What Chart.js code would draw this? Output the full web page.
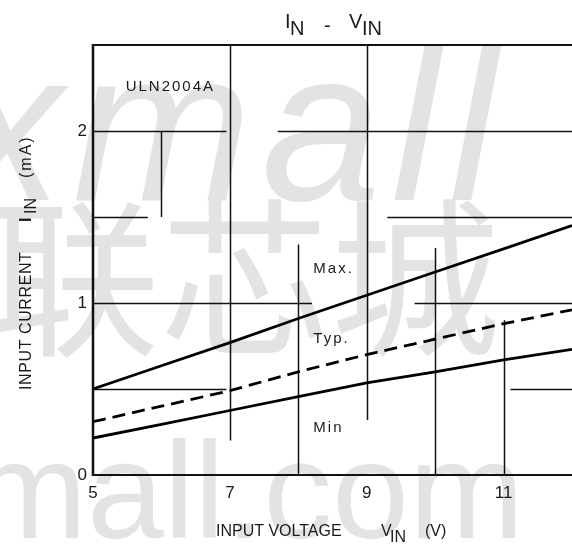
<!DOCTYPE html>
<html>
<head>
<meta charset="utf-8">
<script src="https://cdn.jsdelivr.net/npm/chart.js@4.4.1/dist/chart.umd.min.js"></script>
<style>
  html, body { margin: 0; padding: 0; background: #fff; }
  #wrap { width: 572px; height: 549px; }
</style>
</head>
<body>
<div id="wrap"><canvas id="chart" width="572" height="549"></canvas></div>
<script>
// Input voltage (V) and input current (mA) for the three curves
const inputVoltage = [5, 6, 7, 8, 9, 10, 11, 12];
const currentMax   = [0.50, 0.635, 0.77, 0.91, 1.045, 1.18, 1.315, 1.45];
const currentTyp   = [0.31, 0.40, 0.49, 0.60, 0.70, 0.79, 0.88, 0.96];
const currentMin   = [0.215, 0.295, 0.375, 0.455, 0.535, 0.60, 0.67, 0.73];
const curveNames   = ['Max.', 'Typ.', 'Min'];
const voltageTicks = [5, 7, 9, 11];
const currentTicks = [0, 1, 2];
const deviceName   = 'ULN2004A';

// Graph-paper rulings, in axis units: [voltage, from mA, to mA] and [mA, from V, to V]
const rulesVertical = [
  [6, 1.5, 2.0], [7, 0.2, 2.5], [8, 0, 1.34], [9, 0.32, 2.5], [10, 0, 1.32], [11, 0, 0.9]
];
const rulesHorizontal = [
  [2.0, 5, 6.95], [2.0, 7.7, 12],
  [1.5, 5, 5.8], [1.5, 9.3, 12],
  [1.0, 5, 8.2], [1.0, 9.7, 12],
  [0.5, 5, 6.95], [0.5, 11.1, 12]
];

const FONT = '"Liberation Sans", Arial, sans-serif';

function toPoints(ys) {
  return inputVoltage.map((v, i) => ({ x: v, y: ys[i] }));
}

function pieces(ctx, list) {
  list.forEach(p => {
    ctx.font = p.font;
    ctx.letterSpacing = p.spacing || '0px';
    ctx.fillText(p.t, p.x, p.y);
  });
  ctx.letterSpacing = '0px';
}

const sheetDecor = {
  id: 'sheetDecor',
  beforeDraw(chart) {
    const ctx = chart.ctx;
    ctx.save();
    ctx.fillStyle = '#fff';
    ctx.fillRect(0, 0, chart.width, chart.height);
    ctx.fillStyle = '#e3e3e3';
    ctx.textBaseline = 'alphabetic';
    ctx.textAlign = 'left';
    ctx.font = 'italic 215px ' + FONT;
    ctx.letterSpacing = '10px';
    ctx.fillText('xmall', -45, 200);
    ctx.letterSpacing = '0px';
    ctx.font = '170px "Noto Sans CJK SC"';
    ctx.fillText('联芯城', -10, 343);
    ctx.font = '138px ' + FONT;
    ctx.fillText('mall.com', -28, 538);
    ctx.restore();
  },
  beforeDatasetsDraw(chart) {
    const ctx = chart.ctx;
    const xs = chart.scales.x, ys = chart.scales.y;
    ctx.save();
    ctx.strokeStyle = '#111';
    ctx.lineCap = 'butt';
    ctx.lineWidth = 1.5;
    rulesVertical.forEach(([v, a, b]) => {
      const px = Math.round(xs.getPixelForValue(v)) + 0.5;
      ctx.beginPath();
      ctx.moveTo(px, ys.getPixelForValue(a));
      ctx.lineTo(px, ys.getPixelForValue(b));
      ctx.stroke();
    });
    rulesHorizontal.forEach(([c, a, b]) => {
      const py = Math.round(ys.getPixelForValue(c)) + 0.5;
      ctx.beginPath();
      ctx.moveTo(xs.getPixelForValue(a), py);
      ctx.lineTo(xs.getPixelForValue(b), py);
      ctx.stroke();
    });
    // frame: left, bottom and top edges
    const L = xs.getPixelForValue(5), R = xs.getPixelForValue(12);
    const B = ys.getPixelForValue(0), T = ys.getPixelForValue(2.5);
    ctx.lineWidth = 2.5;
    ctx.beginPath(); ctx.moveTo(L, T - 1); ctx.lineTo(L, B + 1); ctx.stroke();
    ctx.lineWidth = 2;
    ctx.beginPath(); ctx.moveTo(L, B); ctx.lineTo(R, B); ctx.stroke();
    ctx.beginPath(); ctx.moveTo(L, T); ctx.lineTo(R, T); ctx.stroke();
    ctx.restore();
  },
  afterDraw(chart) {
    const ctx = chart.ctx;
    const xs = chart.scales.x, ys = chart.scales.y;
    ctx.save();
    ctx.fillStyle = '#1a1a1a';
    ctx.textBaseline = 'alphabetic';
    ctx.textAlign = 'left';

    // title  I_N - V_IN
    const f20 = '20px ' + FONT;
    pieces(ctx, [
      { t: 'I', x: 285, y: 28, font: f20 },
      { t: 'N', x: 290, y: 35, font: f20 },
      { t: '-', x: 324, y: 32, font: f20 },
      { t: 'V', x: 349, y: 28, font: f20 },
      { t: 'IN', x: 362, y: 35, font: f20 }
    ]);

    // x axis title
    const f16 = '16px ' + FONT;
    pieces(ctx, [
      { t: 'INPUT VOLTAGE', x: 216, y: 536, font: f16 },
      { t: 'V', x: 381, y: 536, font: f16 },
      { t: 'IN', x: 390, y: 542, font: f16 },
      { t: '(V)', x: 425, y: 536, font: f16 }
    ]);

    // y axis title, reading upwards
    ctx.save();
    ctx.translate(31, 0);
    ctx.rotate(-Math.PI / 2);
    pieces(ctx, [
      { t: 'INPUT CURRENT', x: -390, y: 0, font: f16, spacing: '0.6px' },
      { t: 'I', x: -222, y: 0, font: 'bold 16px ' + FONT },
      { t: 'IN', x: -214, y: 5, font: f16 },
      { t: '(mA)', x: -178, y: 0, font: f16, spacing: '2px' }
    ]);
    ctx.restore();

    // device name and curve labels
    const f15 = '15px ' + FONT;
    ctx.font = f15;
    ctx.letterSpacing = '2px';
    ctx.textAlign = 'center';
    ctx.fillText(deviceName, xs.getPixelForValue(6.13), ys.getPixelForValue(2.23));
    ctx.textAlign = 'left';
    const labelAnchors = [[8.22, 1.174], [8.22, 0.767], [8.22, 0.25]];
    curveNames.forEach((name, i) => {
      ctx.fillText(name, xs.getPixelForValue(labelAnchors[i][0]), ys.getPixelForValue(labelAnchors[i][1]));
    });
    ctx.letterSpacing = '0px';
    ctx.restore();
  }
};

const lineStyle = { borderColor: '#000', borderWidth: 2.8, pointRadius: 0, tension: 0, fill: false };

new Chart(document.getElementById('chart'), {
  type: 'line',
  data: {
    datasets: [
      Object.assign({ label: curveNames[0], data: toPoints(currentMax) }, lineStyle),
      Object.assign({ label: curveNames[1], data: toPoints(currentTyp), borderDash: [13, 7] }, lineStyle),
      Object.assign({ label: curveNames[2], data: toPoints(currentMin) }, lineStyle)
    ]
  },
  options: {
    responsive: false,
    devicePixelRatio: 1,
    animation: false,
    layout: { padding: { top: 45, right: 0, left: 0, bottom: 0 } },
    plugins: { legend: { display: false }, tooltip: { enabled: false }, title: { display: false } },
    scales: {
      x: {
        type: 'linear',
        min: 5, max: 12,
        grid: { display: false, drawTicks: false },
        border: { display: false },
        afterBuildTicks: s => { s.ticks = voltageTicks.map(v => ({ value: v })); },
        afterFit: s => { s.height = 74; },
        ticks: { color: '#1a1a1a', padding: 8, maxRotation: 0, font: { family: FONT, size: 17 } }
      },
      y: {
        type: 'linear',
        min: 0, max: 2.5,
        grid: { display: false, drawTicks: false },
        border: { display: false },
        afterBuildTicks: s => { s.ticks = currentTicks.map(v => ({ value: v })); },
        afterFit: s => { s.width = 93; },
        ticks: { color: '#1a1a1a', padding: 6, font: { family: FONT, size: 17 } }
      }
    }
  },
  plugins: [sheetDecor]
});
</script>
</body>
</html>
